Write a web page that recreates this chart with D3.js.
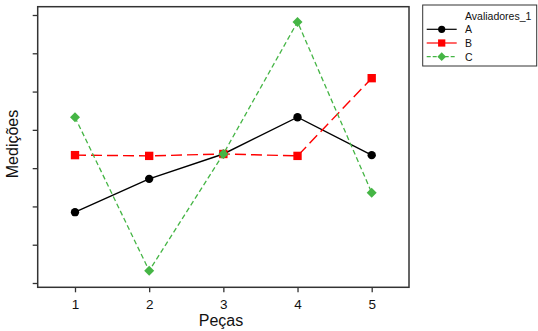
<!DOCTYPE html>
<html><head><meta charset="utf-8">
<script src="https://cdn.jsdelivr.net/npm/d3@7"></script>
<style>body{margin:0;background:#fff}svg{display:block}text{font-family:"Liberation Sans",Arial,sans-serif}</style>
</head><body>
<svg id="c" width="538" height="331"></svg>
<script>
const pecas = [1, 2, 3, 4, 5];
const seriesA = [1.85, 2.72, 3.37, 4.33, 3.34];
const seriesB = [3.34, 3.32, 3.37, 3.32, 5.35];
const seriesC = [4.33, 0.32, 3.37, 6.82, 2.36];
const yTicks = [0, 1, 2, 3, 4, 5, 6, 7];
const seriesNames = ["A", "B", "C"];
const legendTitle = "Avaliadores_1";

const svg = d3.select("#c");
const L = 37.7, R = 409, T = 6.7, B = 287.3;
const x = d3.scaleLinear().domain([1, 5]).range([75, 371.7]);
const y = d3.scaleLinear().domain([0, 7]).range([283, 15]);

svg.append("g").attr("transform", `translate(${L},0)`)
  .call(d3.axisLeft(y).tickValues(yTicks).tickFormat("").tickSize(5))
  .call(g => { g.select(".domain").remove(); g.selectAll("line").attr("stroke", "#333").attr("stroke-width", 1.3); });
svg.append("g").attr("transform", `translate(0,${B})`)
  .call(d3.axisBottom(x).tickValues(pecas).tickFormat(d3.format("d")).tickSize(5).tickPadding(7))
  .call(g => { g.select(".domain").remove(); g.selectAll("line").attr("stroke", "#333").attr("stroke-width", 1.3);
    g.selectAll("text").attr("font-size", 13.5).attr("fill", "#111").attr("font-family", '"Liberation Sans",Arial,sans-serif'); });

svg.append("rect").attr("x", L).attr("y", T).attr("width", R - L).attr("height", B - T)
  .attr("fill", "none").attr("stroke", "#333").attr("stroke-width", 1.5);

const styles = [
  { name: "A", vals: seriesA, color: "#000", dash: null, ldash: null, w: 1.4, shape: d3.symbolCircle, size: 55, rot: 0 },
  { name: "B", vals: seriesB, color: "#ff0000", dash: "11,5", ldash: null, w: 1.4, shape: d3.symbolSquare, size: 70, rot: 0 },
  { name: "C", vals: seriesC, color: "#45b545", dash: "5,3", ldash: "4,2", w: 1.3, shape: d3.symbolSquare, size: 50, rot: 45 }
];
const line = d3.line().x((d, i) => x(pecas[i])).y(d => y(d));
styles.forEach(s => {
  svg.append("path").attr("d", line(s.vals)).attr("fill", "none").attr("stroke", s.color)
    .attr("stroke-width", s.w).attr("stroke-dasharray", s.dash);
  svg.selectAll(null).data(s.vals).enter().append("path")
    .attr("d", d3.symbol().type(s.shape).size(s.size))
    .attr("transform", (d, i) => `translate(${x(pecas[i])},${y(d)}) rotate(${s.rot})`)
    .attr("fill", s.color);
});

// legend
const lg = svg.append("g");
lg.append("rect").attr("x", 422.7).attr("y", 5).attr("width", 114).attr("height", 61)
  .attr("fill", "#fff").attr("stroke", "#333").attr("stroke-width", 1);
lg.append("text").attr("x", 465).attr("y", 19.5).attr("font-size", 10.5).attr("fill", "#111").text(legendTitle);
styles.forEach((s, i) => {
  const yy = 29.3 + i * 13.7;
  lg.append("line").attr("x1", 426.7).attr("x2", 456.7).attr("y1", yy).attr("y2", yy)
    .attr("stroke", s.color).attr("stroke-width", 1.2).attr("stroke-dasharray", s.ldash);
  lg.append("path").attr("d", d3.symbol().type(s.shape).size(s.size * 0.75))
    .attr("transform", `translate(441.7,${yy}) rotate(${s.rot})`).attr("fill", s.color);
  lg.append("text").attr("x", 465).attr("y", yy + 4).attr("font-size", 10.5).attr("fill", "#111").text(seriesNames[i]);
});

svg.append("text").attr("x", 221).attr("y", 326).attr("text-anchor", "middle").attr("font-size", 16).attr("fill", "#111").text("Peças");
svg.append("text").attr("transform", "translate(18,144) rotate(-90)").attr("text-anchor", "middle").attr("font-size", 16).attr("fill", "#111").text("Medições");
</script>
</body></html>
